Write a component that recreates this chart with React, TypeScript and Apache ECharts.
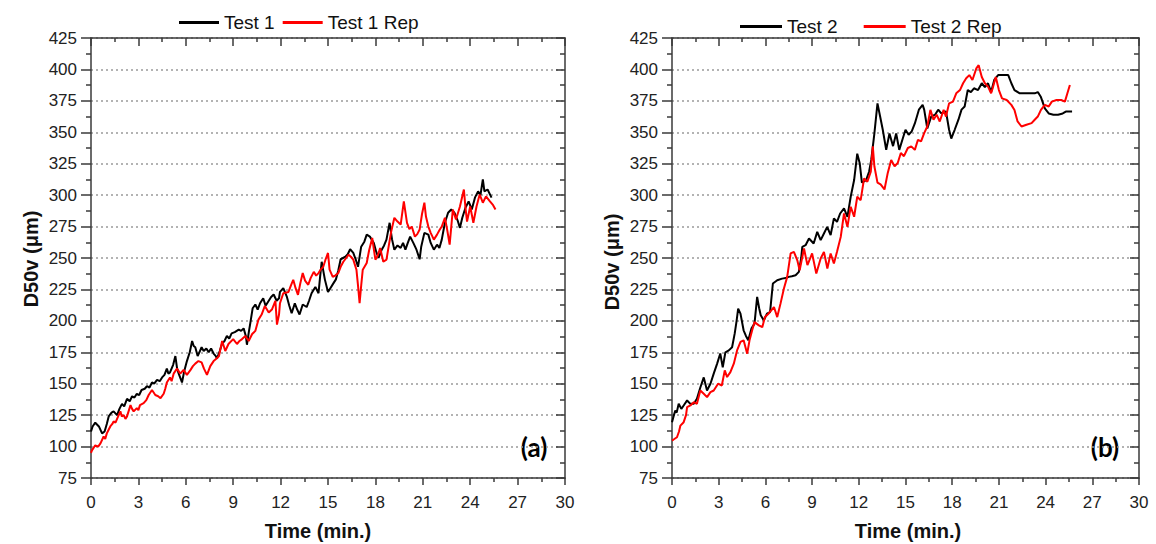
import React, { useEffect, useRef } from "react";
import * as echarts from "echarts";

// ---- data (time in min., D50v in µm) ----
const test1: number[][] = [
  [0, 112], [0.1, 116], [0.27, 119], [0.5, 116], [0.7, 110.5], [0.86, 112], [1.0, 118], [1.12, 124], [1.3, 127], [1.43, 128],
  [1.65, 125], [1.8, 130], [1.96, 134], [2.1, 132], [2.28, 138], [2.45, 136], [2.6, 140], [2.75, 139], [2.9, 142], [3.05, 141],
  [3.2, 145], [3.4, 146], [3.54, 148], [3.7, 147], [3.86, 151], [4.0, 150], [4.18, 153], [4.35, 152], [4.5, 155], [4.65, 157],
  [4.8, 162], [4.9, 158], [5.0, 159], [5.2, 165], [5.34, 172], [5.45, 162], [5.55, 158], [5.7, 153], [5.76, 151], [5.9, 160],
  [6.07, 168], [6.25, 175], [6.4, 184], [6.5, 180], [6.6, 179], [6.75, 172], [6.86, 175], [7.0, 179], [7.13, 176], [7.3, 178],
  [7.45, 175], [7.6, 178], [7.76, 174], [7.9, 172], [7.97, 170], [8.15, 176], [8.3, 182], [8.45, 184], [8.6, 188], [8.75, 186],
  [8.9, 190], [9.1, 191], [9.35, 193], [9.5, 192], [9.66, 194], [9.8, 188], [9.87, 181], [10.0, 192], [10.08, 198], [10.23, 210],
  [10.4, 213], [10.55, 209], [10.7, 214], [10.9, 218], [11.05, 212], [11.2, 215], [11.4, 219], [11.56, 221], [11.75, 216], [11.9, 218],
  [11.96, 223], [12.17, 226], [12.4, 219], [12.55, 212], [12.7, 206], [12.9, 214], [13.05, 209], [13.2, 205], [13.4, 213], [13.65, 211],
  [13.8, 216], [13.96, 222], [14.2, 227], [14.4, 222], [14.5, 235], [14.6, 247], [14.7, 240], [14.8, 233], [15.0, 223], [15.15, 226],
  [15.3, 229], [15.5, 233], [15.65, 240], [15.8, 249], [16.1, 251], [16.25, 253], [16.4, 257], [16.6, 254], [16.75, 249], [16.9, 243],
  [17.1, 259], [17.3, 263], [17.45, 268.6], [17.65, 267], [17.9, 262], [18.05, 255], [18.2, 250], [18.4, 256.6], [18.55, 260], [18.7, 264.6],
  [18.9, 278], [19.05, 265], [19.2, 256.6], [19.4, 260], [19.6, 258], [19.75, 262], [19.9, 256.6], [20.05, 262], [20.2, 267], [20.4, 262],
  [20.6, 256.6], [20.8, 249], [20.9, 259], [21.1, 270], [21.35, 268.6], [21.5, 262], [21.7, 256.6], [21.9, 260.6], [22.05, 258], [22.2, 264.6],
  [22.4, 278], [22.6, 286], [22.8, 288.6], [23.0, 286], [23.2, 280], [23.35, 274], [23.5, 282], [23.7, 290], [23.9, 295], [24.1, 288.6],
  [24.3, 298], [24.5, 303], [24.65, 300], [24.8, 312.5], [24.9, 303], [25.1, 304.5], [25.35, 298],
];

const test1Rep: number[][] = [
  [0, 95], [0.06, 97], [0.27, 101], [0.45, 100], [0.6, 102.6], [0.8, 108], [0.9, 106], [1.0, 110.5], [1.1, 113], [1.22, 116],
  [1.35, 118], [1.43, 120], [1.55, 119], [1.65, 122], [1.86, 128], [1.95, 124], [2.07, 125], [2.18, 122], [2.28, 124], [2.5, 133],
  [2.6, 130], [2.7, 128], [2.9, 130.6], [3.0, 129], [3.1, 133], [3.33, 134.5], [3.5, 137], [3.65, 141], [3.86, 145], [4.07, 141],
  [4.25, 140], [4.4, 138.5], [4.6, 142], [4.7, 146], [4.8, 151], [5.0, 155], [5.1, 152], [5.23, 158], [5.44, 162], [5.65, 158],
  [5.86, 161], [6.07, 157], [6.3, 161], [6.45, 164], [6.6, 166], [6.8, 168], [7.0, 167], [7.15, 162], [7.34, 157], [7.55, 164],
  [7.76, 168], [7.95, 170], [8.1, 172], [8.3, 184], [8.5, 176], [8.7, 181.6], [9.0, 185.5], [9.24, 181.6], [9.4, 184], [9.56, 185.5],
  [9.77, 188], [9.98, 184], [10.2, 189.5], [10.4, 192], [10.6, 201], [10.8, 205], [11.0, 211.8], [11.25, 206.6], [11.45, 209], [11.67, 216],
  [11.77, 197], [11.9, 205], [11.96, 214], [12.17, 222], [12.5, 223], [12.65, 228], [12.8, 232.7], [12.95, 226], [13.1, 220.7], [13.25, 230],
  [13.4, 238], [13.55, 232], [13.75, 228.7], [13.9, 234], [14.1, 239], [14.25, 236], [14.4, 238], [14.55, 241], [14.7, 243], [14.85, 249],
  [15.0, 254], [15.1, 240.7], [15.3, 235], [15.45, 236], [15.65, 238], [15.8, 243], [15.97, 247], [16.15, 250], [16.3, 252.6], [16.45, 251],
  [16.6, 248.7], [16.8, 240.7], [16.9, 228], [17.0, 214], [17.1, 228], [17.2, 240.7], [17.45, 246], [17.6, 256], [17.8, 266], [17.9, 257],
  [18.0, 248.7], [18.15, 252], [18.3, 258], [18.5, 247], [18.7, 248.7], [18.85, 260], [19.0, 271], [19.2, 282], [19.4, 279], [19.6, 276.6],
  [19.8, 295], [20.0, 278], [20.15, 273], [20.3, 275], [20.5, 267], [20.65, 269], [20.8, 272.6], [20.95, 285], [21.1, 294], [21.2, 283],
  [21.35, 275], [21.5, 270], [21.7, 264.6], [21.9, 268.6], [22.05, 272], [22.2, 275], [22.4, 282], [22.55, 272], [22.7, 260.6], [22.9, 288.6],
  [23.1, 280.6], [23.35, 291], [23.6, 304.5], [23.7, 290], [23.8, 279], [24.0, 291], [24.2, 278], [24.4, 291], [24.6, 300.5], [24.8, 294],
  [25.0, 299], [25.25, 295], [25.45, 292], [25.6, 288.6],
];

const test2: number[][] = [
  [0, 119.4], [0.1, 124], [0.21, 128.7], [0.3, 127], [0.43, 134], [0.6, 130], [0.75, 132.7], [0.97, 136.7], [1.18, 134], [1.4, 134],
  [1.6, 138], [1.82, 147], [2.04, 155], [2.25, 144.6], [2.47, 150], [2.68, 158], [2.9, 166], [3.1, 174], [3.26, 163], [3.43, 175],
  [3.65, 176.5], [3.86, 179], [4.03, 190], [4.15, 200], [4.25, 209.7], [4.4, 205.7], [4.6, 192.5], [4.75, 188], [4.9, 184.5], [5.1, 193.8],
  [5.3, 197.8], [5.47, 219], [5.6, 210], [5.7, 204.4], [5.9, 200.4], [6.1, 205.7], [6.3, 207], [6.48, 229.7], [6.76, 232.3], [7.07, 233.6],
  [7.3, 234], [7.5, 235], [7.7, 235.5], [7.94, 236.3], [8.15, 239], [8.3, 250], [8.37, 258.9], [8.58, 260.2], [8.8, 265.5], [9.1, 261.5],
  [9.33, 270.8], [9.55, 264.2], [9.76, 269.5], [9.97, 274.8], [10.19, 268.2], [10.4, 281.5], [10.6, 278.8], [10.8, 285.4], [11.05, 289.4], [11.27, 282.8],
  [11.48, 298.7], [11.7, 312], [11.9, 333], [12.06, 325.3], [12.2, 310], [12.47, 312], [12.66, 318.6], [12.8, 328], [13.0, 349], [13.2, 373],
  [13.37, 362.5], [13.54, 352], [13.76, 336], [13.97, 349], [14.2, 339], [14.4, 349], [14.6, 336], [14.8, 344], [15.0, 352], [15.2, 348],
  [15.4, 350.7], [15.6, 357], [15.86, 368], [16.1, 371.8], [16.2, 368], [16.4, 353], [16.65, 362.5], [16.9, 364], [17.1, 368], [17.3, 365],
  [17.6, 366.5], [17.8, 352], [17.94, 345], [18.16, 352], [18.4, 360], [18.6, 368], [18.8, 370.5], [19.0, 383.6], [19.2, 382], [19.4, 385],
  [19.66, 383.6], [19.9, 389], [20.1, 386], [20.3, 389], [20.5, 382], [20.7, 391.6], [20.95, 395.5], [21.27, 395.5], [21.6, 395.5], [21.8, 389],
  [22.0, 383.6], [22.34, 381], [22.66, 381], [23.0, 381], [23.3, 381], [23.5, 382], [23.7, 378], [23.95, 369], [24.2, 365], [24.5, 364],
  [24.8, 364], [25.1, 365], [25.3, 366.5], [25.7, 366.5],
];

const test2Rep: number[][] = [
  [0, 104.8], [0.15, 106], [0.32, 107.4], [0.45, 112], [0.54, 116.7], [0.75, 119.4], [0.9, 125], [0.97, 131.3], [1.18, 132.7], [1.4, 135.3],
  [1.6, 134], [1.82, 144.6], [2.04, 142], [2.25, 139.3], [2.47, 143.3], [2.68, 144.6], [2.96, 150], [3.2, 148.6], [3.39, 160.6], [3.54, 155.3],
  [3.75, 159.2], [3.97, 165.9], [4.18, 176.5], [4.4, 183.2], [4.6, 184.5], [4.83, 173.9], [4.98, 184.5], [5.15, 192.5], [5.3, 199], [5.58, 196.4],
  [5.8, 195], [5.97, 203], [6.2, 205.7], [6.55, 211], [6.76, 203], [6.97, 213.7], [7.19, 225.7], [7.4, 235], [7.62, 253.6], [7.83, 254.9],
  [8.05, 248.2], [8.2, 240.3], [8.48, 257.5], [8.7, 244.3], [9.0, 253.6], [9.27, 237.6], [9.55, 249.6], [9.76, 254.9], [9.98, 241.6], [10.19, 253.6],
  [10.4, 245.6], [10.6, 254.9], [10.84, 266.8], [11.05, 285.4], [11.27, 274.8], [11.48, 290.8], [11.7, 282.8], [11.9, 298.7], [12.12, 296], [12.34, 313.3],
  [12.55, 310.7], [12.77, 318.6], [12.9, 338.8], [13.0, 323], [13.2, 310], [13.4, 308.5], [13.65, 304.5], [13.86, 317.7], [14.08, 328], [14.3, 323],
  [14.5, 325.6], [14.7, 333.5], [14.9, 331], [15.15, 337.5], [15.37, 338.8], [15.6, 336], [15.8, 344], [16.0, 342.7], [16.2, 349.3], [16.4, 354.6],
  [16.6, 367.8], [16.8, 360], [17.0, 364], [17.2, 358.6], [17.45, 367.8], [17.6, 362.5], [17.8, 373], [18.05, 374.4], [18.26, 381], [18.5, 383.6],
  [18.7, 389], [18.9, 393], [19.1, 395.5], [19.3, 391.6], [19.55, 400.8], [19.7, 403.4], [19.9, 394], [20.1, 389], [20.3, 386.3], [20.5, 381],
  [20.6, 385], [20.8, 394], [21.0, 383.6], [21.2, 377], [21.5, 375.7], [21.8, 371.8], [22.0, 367.8], [22.2, 358.6], [22.45, 354.6], [22.77, 356],
  [23.1, 357.3], [23.3, 360], [23.5, 362.5], [23.7, 367.8], [23.95, 371.8], [24.2, 370.5], [24.4, 374.4], [24.7, 375.7], [25.0, 375.7], [25.24, 374.4],
  [25.4, 381], [25.56, 387.6],
];

const seriesNames = ["Test 1", "Test 1 Rep", "Test 2", "Test 2 Rep"];
const panelLabels = ["(a)", "(b)"];
const xAxisTitle = "Time (min.)";
const yAxisTitle = "D50v (\u03bcm)";

const FONT = "'Liberation Sans', Arial, sans-serif";
const AXIS_COLOR = "#3a3a3a";
const TEXT_COLOR = "#222";

function bottomX(gridIndex: number) {
  return {
    type: "value", gridIndex, position: "bottom", min: 0, max: 30, interval: 3,
    axisLine: { show: true, onZero: false, lineStyle: { color: AXIS_COLOR, width: 1.5 } },
    axisTick: { show: true, inside: false, length: 7, lineStyle: { color: AXIS_COLOR, width: 1.5 } },
    minorTick: { show: true, splitNumber: 2, length: 4, lineStyle: { color: AXIS_COLOR, width: 1.5 } },
    axisLabel: { show: true, margin: 16, color: TEXT_COLOR, fontFamily: FONT, fontSize: 17 },
    splitLine: { show: false },
  };
}
function topX(gridIndex: number) {
  return {
    type: "value", gridIndex, position: "top", min: 0, max: 30, interval: 3,
    axisLine: { show: true, onZero: false, lineStyle: { color: AXIS_COLOR, width: 1.5 } },
    axisTick: { show: true, inside: true, length: 8, lineStyle: { color: AXIS_COLOR, width: 1.5 } },
    minorTick: { show: true, splitNumber: 2, length: 4, lineStyle: { color: AXIS_COLOR, width: 1.5 } },
    axisLabel: { show: false },
    splitLine: { show: false },
  };
}
function leftY(gridIndex: number) {
  return {
    type: "value", gridIndex, position: "left", min: 75, max: 425, interval: 25,
    axisLine: { show: true, onZero: false, lineStyle: { color: AXIS_COLOR, width: 1.5 } },
    axisTick: { show: true, inside: false, length: 10, lineStyle: { color: AXIS_COLOR, width: 1.5 } },
    minorTick: { show: true, splitNumber: 2, length: 5, lineStyle: { color: AXIS_COLOR, width: 1.5 } },
    axisLabel: { show: true, margin: 14, color: TEXT_COLOR, fontFamily: FONT, fontSize: 17 },
    splitLine: { show: true, lineStyle: { color: "#9a9a9a", width: 1.5, type: [2, 3] } },
  };
}
function rightY(gridIndex: number) {
  return {
    type: "value", gridIndex, position: "right", min: 75, max: 425, interval: 25,
    axisLine: { show: true, onZero: false, lineStyle: { color: AXIS_COLOR, width: 1.5 } },
    axisTick: { show: true, inside: true, length: 9, lineStyle: { color: AXIS_COLOR, width: 1.5 } },
    minorTick: { show: true, splitNumber: 2, length: 5, lineStyle: { color: AXIS_COLOR, width: 1.5 } },
    axisLabel: { show: false },
    splitLine: { show: false },
  };
}

function lineSeries(name: string, data: number[][], color: string, idx: number) {
  return {
    name, type: "line", data, xAxisIndex: idx * 2, yAxisIndex: idx * 2,
    symbol: "none", showSymbol: false, smooth: false,
    lineStyle: { color, width: 2 }, itemStyle: { color },
    emphasis: { disabled: true },
  };
}

export default function App() {
  const ref = useRef<HTMLDivElement>(null);
  useEffect(() => {
    if (!ref.current) return;
    const chart = echarts.init(ref.current, undefined, { renderer: "svg" });
    const legendText = { fontFamily: FONT, fontSize: 19, color: "#111" };
    const titleStyle = { fontFamily: FONT, fontSize: 20, fontWeight: "bold", fill: "#111" };
    chart.setOption({
      animation: false,
      backgroundColor: "#fff",
      grid: [
        { left: 91, right: 591, top: 38, bottom: 66 },
        { left: 672, right: 17, top: 38, bottom: 66 },
      ],
      legend: [
        {
          data: [seriesNames[0], seriesNames[1]], left: 174, top: 8, icon: "rect",
          itemWidth: 40, itemHeight: 3, itemGap: 8, textStyle: legendText, selectedMode: false,
        },
        {
          data: [seriesNames[2], seriesNames[3]], left: 735, top: 12, icon: "rect",
          itemWidth: 42, itemHeight: 3, itemGap: 26, textStyle: legendText, selectedMode: false,
        },
      ],
      xAxis: [bottomX(0), topX(0), bottomX(1), topX(1)],
      yAxis: [leftY(0), rightY(0), leftY(1), rightY(1)],
      series: [
        lineSeries(seriesNames[0], test1, "#000000", 0),
        lineSeries(seriesNames[1], test1Rep, "#ff0000", 0),
        lineSeries(seriesNames[2], test2, "#000000", 1),
        lineSeries(seriesNames[3], test2Rep, "#ff0000", 1),
      ],
      graphic: [
        { type: "text", x: 318, y: 531, style: { ...titleStyle, text: xAxisTitle, align: "center", verticalAlign: "middle" } },
        { type: "text", x: 908, y: 531, style: { ...titleStyle, text: xAxisTitle, align: "center", verticalAlign: "middle" } },
        { type: "text", x: 31, y: 259, rotation: Math.PI / 2, style: { ...titleStyle, text: yAxisTitle, align: "center", verticalAlign: "middle" } },
        { type: "text", x: 612, y: 262, rotation: Math.PI / 2, style: { ...titleStyle, text: yAxisTitle, align: "center", verticalAlign: "middle" } },
        { type: "text", x: 534, y: 447, style: { text: panelLabels[0], fontFamily: "Lato, 'Open Sans', sans-serif", fontWeight: "bold", fontSize: 26, fill: "#000", align: "center", verticalAlign: "middle" } },
        { type: "text", x: 1105, y: 447, style: { text: panelLabels[1], fontFamily: "Lato, 'Open Sans', sans-serif", fontWeight: "bold", fontSize: 26, fill: "#000", align: "center", verticalAlign: "middle" } },
      ],
    });
    return () => chart.dispose();
  }, []);
  return <div ref={ref} style={{ width: 1156, height: 544, position: "absolute", left: 0, top: 0 }} />;
}
